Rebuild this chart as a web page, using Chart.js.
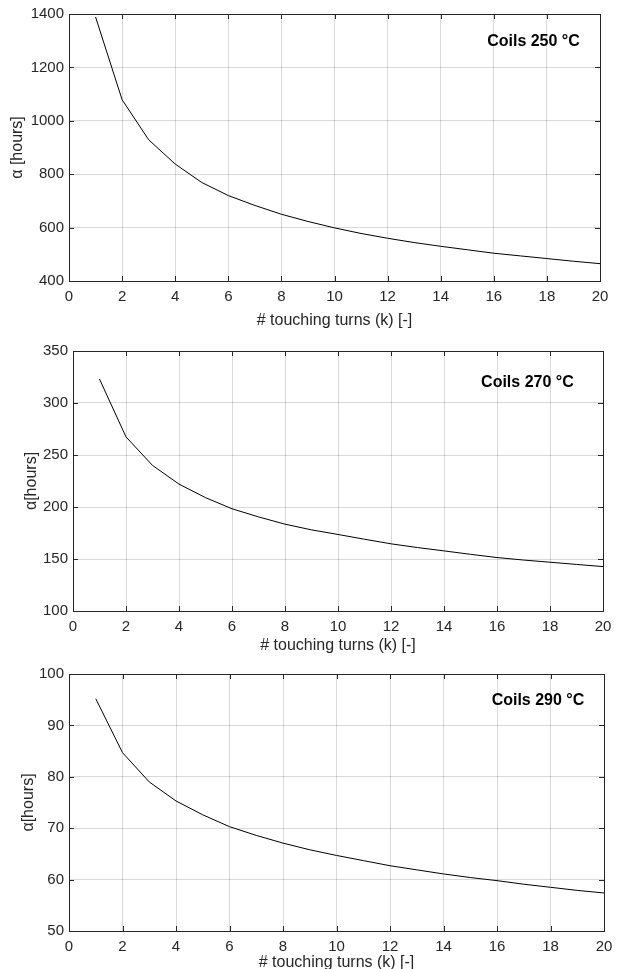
<!DOCTYPE html>
<html>
<head>
<meta charset="utf-8">
<script src="https://cdn.jsdelivr.net/npm/chart.js@4.4.1/dist/chart.umd.min.js"></script>
<style>
  html, body { margin: 0; padding: 0; background: #fff; overflow: hidden; }
  canvas { position: absolute; left: 0; }
</style>
</head>
<body>
<canvas id="c250" width="621" height="335" style="top:0px"></canvas>
<canvas id="c270" width="621" height="325" style="top:335px"></canvas>
<canvas id="c290" width="621" height="320" style="top:660px"></canvas>
<script>
// touching turns k
const kValues = [1, 2, 3, 4, 5, 6, 7, 8, 9, 10, 11, 12, 13, 14, 15, 16, 17, 18, 19, 20]

// alpha [hours]
const alpha250 = [1389, 1079, 929, 838, 769, 720, 683, 650, 623, 599, 578, 560, 544, 530, 517, 504, 494, 484, 474, 465]
const alpha270 = [323, 267.4, 240, 222, 209, 198.3, 190.5, 183.5, 178, 173.6, 169, 164.6, 161, 157.8, 154.5, 151.4, 149, 146.9, 144.8, 142.7]
const alpha290 = [95.2, 84.7, 79.0, 75.3, 72.6, 70.3, 68.6, 67.1, 65.8, 64.7, 63.7, 62.7, 61.9, 61.1, 60.4, 59.8, 59.1, 58.5, 57.9, 57.4]

// y axis ticks [min, max, step]
const yTicks250 = [400, 1400, 200]
const yTicks270 = [100, 350, 50]
const yTicks290 = [50, 100, 10]
const xTicks = [0, 20, 2]

const FONT = '"Liberation Sans", Arial, Helvetica, sans-serif'
const INK = '#262626'

// box round the plot + MATLAB style inward ticks + label text
const frameTicks = {
    id: 'frameTicks',
    afterDraw(chart, args, opts) {
        const { ctx, chartArea: a, scales: { x, y } } = chart
        const px = (v) => Math.round(v) + 0.5
        ctx.save()
        ctx.strokeStyle = INK
        ctx.lineWidth = 1
        ctx.strokeRect(px(a.left), px(a.top), Math.round(a.right) - Math.round(a.left), Math.round(a.bottom) - Math.round(a.top))
        ctx.beginPath()
        x.ticks.forEach((t) => {
            const p = px(x.getPixelForValue(t.value))
            ctx.moveTo(p, a.bottom); ctx.lineTo(p, a.bottom - 5)
            ctx.moveTo(p, a.top); ctx.lineTo(p, a.top + 5)
        })
        y.ticks.forEach((t) => {
            const p = px(y.getPixelForValue(t.value))
            ctx.moveTo(a.left, p); ctx.lineTo(a.left + 5, p)
            ctx.moveTo(a.right, p); ctx.lineTo(a.right - 5, p)
        })
        ctx.stroke()

        ctx.font = 'bold 16px ' + FONT
        ctx.fillStyle = '#000'
        ctx.textAlign = 'left'
        ctx.textBaseline = 'middle'
        ctx.fillText(opts.text, x.getPixelForValue(opts.tx), y.getPixelForValue(opts.ty))
        ctx.restore()
    }
}

function makeChart(id, values, yTicks, cfg) {
    new Chart(document.getElementById(id), {
        type: 'line',
        data: {
            datasets: [{
                data: kValues.map((k, i) => ({ x: k, y: values[i] })),
                borderColor: '#000',
                borderWidth: 1,
                pointRadius: 0,
                tension: 0,
                fill: false
            }]
        },
        options: {
            responsive: false,
            animation: false,
            events: [],
            layout: { padding: { top: cfg.padTop, right: cfg.padRight, left: 0, bottom: 0 } },
            plugins: {
                legend: { display: false },
                tooltip: { enabled: false },
                frameTicks: { text: cfg.text, tx: cfg.tx, ty: cfg.ty }
            },
            scales: {
                x: {
                    type: 'linear',
                    min: xTicks[0],
                    max: xTicks[1],
                    afterFit: (s) => { s.height = cfg.xHeight },
                    ticks: { stepSize: xTicks[2], padding: 7, color: INK, font: { family: FONT, size: 15 }, maxRotation: 0 },
                    grid: { color: 'rgba(0,0,0,0.15)', drawTicks: false },
                    border: { display: false },
                    title: {
                        display: true,
                        text: '# touching turns (k) [-]',
                        color: INK,
                        font: { family: FONT, size: 16 },
                        padding: { top: 0, bottom: cfg.xTitlePad }
                    }
                },
                y: {
                    min: yTicks[0],
                    max: yTicks[1],
                    afterFit: (s) => { s.width = cfg.yWidth },
                    ticks: {
                        stepSize: yTicks[2], padding: 5, color: INK, font: { family: FONT, size: 15 },
                        callback: (v) => String(v)
                    },
                    grid: { color: 'rgba(0,0,0,0.15)', drawTicks: false },
                    border: { display: false },
                    title: {
                        display: true,
                        text: cfg.yTitle,
                        color: INK,
                        font: { family: FONT, size: 16 },
                        padding: { top: cfg.yTitlePad, bottom: 0 }
                    }
                }
            }
        },
        plugins: [frameTicks]
    })
}

makeChart('c250', alpha250, yTicks250, {
    padTop: 14, padRight: 21, xHeight: 54, yWidth: 69, xTitlePad: 5, yTitlePad: 8,
    yTitle: 'α [hours]', text: 'Coils 250 °C', tx: 15.75, ty: 1296
})
makeChart('c270', alpha270, yTicks270, {
    padTop: 16, padRight: 18, xHeight: 49, yWidth: 73, xTitlePad: 5, yTitlePad: 22,
    yTitle: 'α[hours]', text: 'Coils 270 °C', tx: 15.4, ty: 320
})
makeChart('c290', alpha290, yTicks290, {
    padTop: 10, padRight: 17, xHeight: 49, yWidth: 69, xTitlePad: 8, yTitlePad: 19,
    yTitle: 'α[hours]', text: 'Coils 290 °C', tx: 15.8, ty: 94.8
})
</script>
</body>
</html>
